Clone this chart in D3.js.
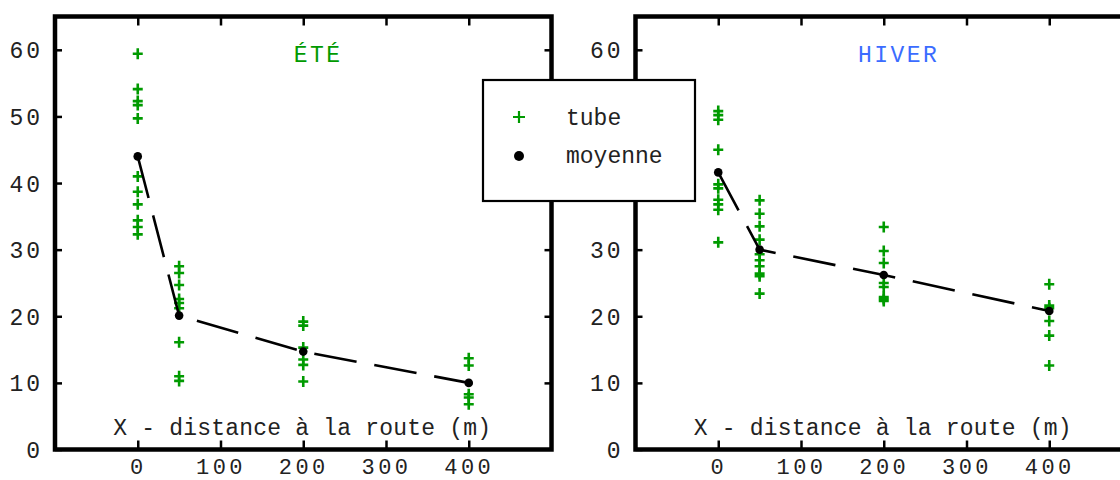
<!DOCTYPE html>
<html>
<head>
<meta charset="utf-8">
<script src="https://cdn.jsdelivr.net/npm/d3@7"></script>
<style>
  body { margin: 0; background: #fff; }
  text { font-family: "Courier New", "Liberation Mono", monospace; }
</style>
</head>
<body>
<div id="chart"></div>
<script>
// distances (m)
const distances = [0, 50, 200, 400];

// individual tubes, summer
const eteTubes = [
  [59.4, 54.1, 52.3, 51.7, 49.7, 41.0, 38.7, 36.8, 34.4, 33.4, 32.3],
  [27.5, 26.5, 24.7, 22.6, 22.0, 21.2, 16.1, 11.0, 10.3],
  [19.2, 18.6, 15.3, 13.5, 12.7, 10.2],
  [13.7, 12.6, 8.3, 7.8, 6.8]
];
const eteMeans = [44.0, 20.1, 14.7, 10.0];

// individual tubes, winter
const hiverTubes = [
  [50.8, 50.2, 49.5, 45.0, 39.8, 39.2, 37.5, 36.8, 36.0, 31.1],
  [37.4, 35.4, 33.5, 31.5, 29.3, 28.4, 27.5, 26.4, 26.0, 23.4],
  [33.4, 29.8, 28.0, 25.0, 24.4, 22.9, 22.6, 22.3],
  [24.8, 21.6, 21.2, 19.3, 17.1, 12.6]
];
const hiverMeans = [41.6, 30.0, 26.2, 20.8];

const yTicks = [0, 10, 20, 30, 40, 50, 60];
const xTicks = [0, 100, 200, 300, 400];

const green = '#009a00';

const svg = d3.select('#chart').append('svg')
  .attr('width', 1120)
  .attr('height', 480);

const yScale = d3.scaleLinear().domain([0, 65]).range([449.5, 16.5]);

function drawPanel(left, title, titleColor, tubes, means, hiddenLabels) {
  const xScale = d3.scaleLinear().domain([-100, 500]).range([left, left + 496.5]);
  const g = svg.append('g');

  const x0 = xScale.range()[0], x1 = xScale.range()[1];
  const y0 = yScale.range()[0], y1 = yScale.range()[1];

  // inward ticks on all four sides
  const yLeft = g.append('g').attr('transform', `translate(${x0},0)`)
    .call(d3.axisLeft(yScale).tickValues(yTicks).tickSize(-7).tickPadding(12)
      .tickFormat(d => hiddenLabels.includes(d) ? '' : d));
  g.append('g').attr('transform', `translate(${x1},0)`)
    .call(d3.axisRight(yScale).tickValues(yTicks.slice(1)).tickSize(-7).tickFormat(''));
  const xBottom = g.append('g').attr('transform', `translate(0,${y0})`)
    .call(d3.axisBottom(xScale).tickValues(xTicks).tickSize(-9).tickPadding(15));
  g.append('g').attr('transform', `translate(0,${y1})`)
    .call(d3.axisTop(xScale).tickValues(xTicks).tickSize(-9).tickFormat(''));

  g.selectAll('.domain').remove();
  g.selectAll('.tick line').attr('stroke', '#000').attr('stroke-width', 2.5);
  g.selectAll('.tick text')
    .attr('font-size', 23)
    .attr('letter-spacing', 3)
    .attr('fill', '#222');
  yLeft.selectAll('.tick text').attr('dy', '0.35em');
  xBottom.selectAll('.tick text')
    .attr('font-size', 22)
    .attr('letter-spacing', 3.5)
    .attr('dy', '0.42em');

  // frame
  g.append('rect')
    .attr('x', x0).attr('y', y1)
    .attr('width', x1 - x0).attr('height', y0 - y1)
    .attr('fill', 'none')
    .attr('stroke', '#000')
    .attr('stroke-width', 4.5);

  g.append('text')
    .attr('x', xScale(218)).attr('y', 62)
    .attr('text-anchor', 'middle')
    .attr('font-size', 23)
    .attr('letter-spacing', 2.5)
    .attr('fill', titleColor)
    .text(title);

  g.append('text')
    .attr('x', (x0 + x1) / 2 - 1).attr('y', 435)
    .attr('text-anchor', 'middle')
    .attr('font-size', 23)
    .attr('letter-spacing', 0.2)
    .attr('fill', '#222')
    .text('X - distance à la route (m)');

  // tubes as crosses
  const pts = [];
  tubes.forEach((arr, i) => arr.forEach(v => pts.push({ d: distances[i], v })));
  g.selectAll('.tube').data(pts).join('path')
    .attr('class', 'tube')
    .attr('transform', d => `translate(${xScale(d.d)},${yScale(d.v)})`)
    .attr('d', 'M-5,0H5M0,-5.5V5.5')
    .attr('stroke', green)
    .attr('stroke-width', 2.6);

  // mean line
  const line = d3.line()
    .x((d, i) => xScale(distances[i]))
    .y(d => yScale(d));
  g.append('path')
    .datum(means)
    .attr('d', line)
    .attr('fill', 'none')
    .attr('stroke', '#000')
    .attr('stroke-width', 2.6)
    .attr('stroke-dasharray', '43,18');

  g.selectAll('.mean').data(means).join('circle')
    .attr('class', 'mean')
    .attr('cx', (d, i) => xScale(distances[i]))
    .attr('cy', d => yScale(d))
    .attr('r', 4.3)
    .attr('fill', '#000');
}

drawPanel(55, 'ÉTÉ', green, eteTubes, eteMeans, []);
// 40 and 50 sit under the legend box on the winter panel
drawPanel(635.5, 'HIVER', '#3b6cff', hiverTubes, hiverMeans, [40, 50]);

// legend
const legend = svg.append('g');
legend.append('rect')
  .attr('x', 483).attr('y', 80)
  .attr('width', 212).attr('height', 121)
  .attr('fill', '#fff')
  .attr('stroke', '#000')
  .attr('stroke-width', 2.2);
legend.append('path')
  .attr('transform', 'translate(519,117)')
  .attr('d', 'M-6,0H6M0,-6V6')
  .attr('stroke', green)
  .attr('stroke-width', 2.2);
legend.append('circle')
  .attr('cx', 519).attr('cy', 156).attr('r', 5)
  .attr('fill', '#000');
legend.append('text')
  .attr('x', 566).attr('y', 125)
  .attr('font-size', 23)
  .attr('fill', '#222')
  .text('tube');
legend.append('text')
  .attr('x', 566).attr('y', 163)
  .attr('font-size', 23)
  .attr('fill', '#222')
  .text('moyenne');
</script>
</body>
</html>
